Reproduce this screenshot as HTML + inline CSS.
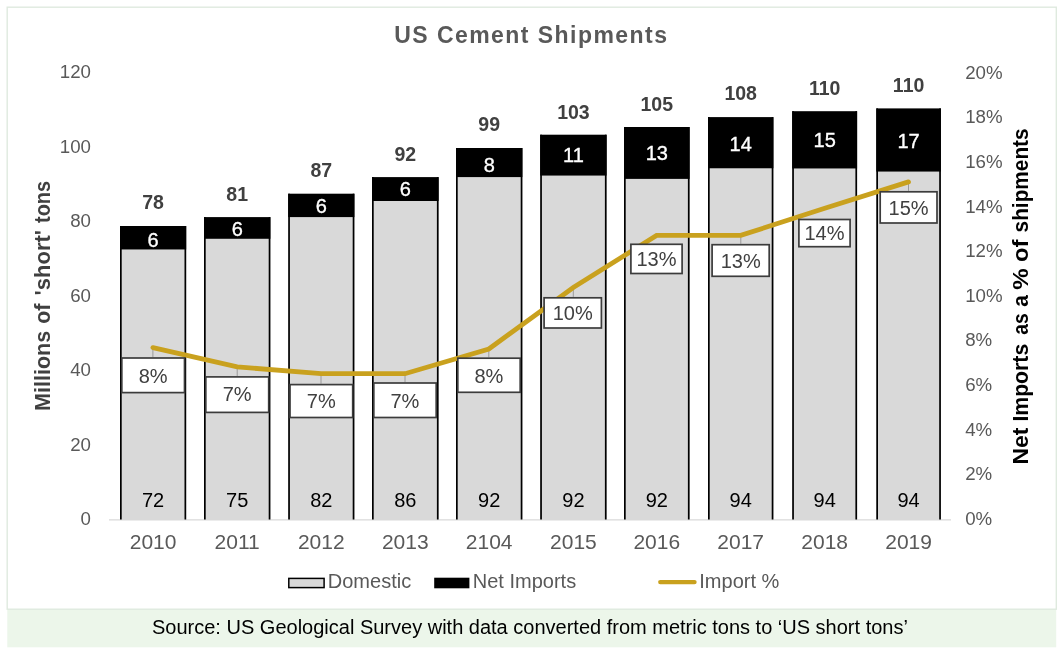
<!DOCTYPE html>
<html lang="en">
<head>
<meta charset="utf-8">
<title>US Cement Shipments</title>
<style>
html,body{margin:0;padding:0;background:#fff;}
body{width:1057px;height:650px;overflow:hidden;font-family:"Liberation Sans",Arial,sans-serif;}
svg{display:block;}
text{font-family:"Liberation Sans",Arial,sans-serif;}
.ax{fill:#595959;font-size:18.7px;}
.yr{fill:#595959;font-size:21px;}
.tot{fill:#404040;font-size:19.5px;font-weight:bold;}
.imp{fill:#fff;font-size:20px;stroke:#fff;stroke-width:0.35px;}
.dom{fill:#000;font-size:20px;}
.pc{fill:#404040;font-size:20px;}
.lg{fill:#595959;font-size:20px;}
</style>
</head>
<body>
<svg width="1057" height="650" viewBox="0 0 1057 650">
<rect x="0" y="0" width="1057" height="650" fill="#ffffff"/>
<rect x="7.3" y="609" width="1048.9" height="38.3" fill="#ecf6ea"/>
<rect x="7.2" y="7.2" width="1049.1" height="602" fill="none" stroke="#dfeadf" stroke-width="1.4"/>

<text x="531.3" y="43.0" text-anchor="middle" font-size="23" font-weight="bold" fill="#595959" letter-spacing="1.45">US Cement Shipments</text>
<line x1="109" y1="519.8" x2="951" y2="519.8" stroke="#d9d9d9" stroke-width="1.2"/>
<text class="ax" x="91" y="525.0" text-anchor="end">0</text>
<text class="ax" x="91" y="450.5" text-anchor="end">20</text>
<text class="ax" x="91" y="376.1" text-anchor="end">40</text>
<text class="ax" x="91" y="301.6" text-anchor="end">60</text>
<text class="ax" x="91" y="227.2" text-anchor="end">80</text>
<text class="ax" x="91" y="152.7" text-anchor="end">100</text>
<text class="ax" x="91" y="78.3" text-anchor="end">120</text>
<text class="ax" x="965.2" y="524.9">0%</text>
<text class="ax" x="965.2" y="480.3">2%</text>
<text class="ax" x="965.2" y="435.7">4%</text>
<text class="ax" x="965.2" y="391.0">6%</text>
<text class="ax" x="965.2" y="346.4">8%</text>
<text class="ax" x="965.2" y="301.8">10%</text>
<text class="ax" x="965.2" y="257.2">12%</text>
<text class="ax" x="965.2" y="212.6">14%</text>
<text class="ax" x="965.2" y="167.9">16%</text>
<text class="ax" x="965.2" y="123.3">18%</text>
<text class="ax" x="965.2" y="78.7">20%</text>
<text transform="translate(50.4,409.5) rotate(-90)" font-size="21.5" font-weight="bold" fill="#404040"><tspan x="-1.5" textLength="80.2" lengthAdjust="spacingAndGlyphs">Millions</tspan> <tspan x="85.8" textLength="20.1" lengthAdjust="spacingAndGlyphs">of</tspan> <tspan x="114.0" textLength="65.6" lengthAdjust="spacingAndGlyphs">'short'</tspan> <tspan x="186.6" textLength="42.0" lengthAdjust="spacingAndGlyphs">tons</tspan></text>
<text transform="translate(1027.7,463.0) rotate(-90)" font-size="21.5" font-weight="bold" fill="#000"><tspan x="-1.6" textLength="36.9" lengthAdjust="spacingAndGlyphs">Net</tspan> <tspan x="41.4" textLength="77.8" lengthAdjust="spacingAndGlyphs">Imports</tspan> <tspan x="128.2" textLength="21.4" lengthAdjust="spacingAndGlyphs">as</tspan> <tspan x="156.2" textLength="11.6" lengthAdjust="spacingAndGlyphs">a</tspan> <tspan x="173.2" textLength="21.4" lengthAdjust="spacingAndGlyphs">%</tspan> <tspan x="201.1" textLength="22.4" lengthAdjust="spacingAndGlyphs">of</tspan> <tspan x="230.6" textLength="104.0" lengthAdjust="spacingAndGlyphs">shipments</tspan></text>
<rect x="120.0" y="249.5" width="66.2" height="270.5" fill="#d9d9d9"/>
<rect x="120.0" y="226.0" width="66.2" height="23.5" fill="#000"/>
<rect x="120.0" y="226.0" width="1.7" height="293.5" fill="#000"/>
<rect x="184.5" y="226.0" width="1.7" height="293.5" fill="#000"/>
<text class="tot" x="153.1" y="209.3" text-anchor="middle">78</text>
<text class="imp" x="153.1" y="247.1" text-anchor="middle">6</text>
<text class="dom" x="153.1" y="507.3" text-anchor="middle">72</text>
<text class="yr" x="153.1" y="549" text-anchor="middle">2010</text>
<rect x="204.0" y="238.8" width="66.4" height="281.2" fill="#d9d9d9"/>
<rect x="204.0" y="217.1" width="66.4" height="21.7" fill="#000"/>
<rect x="204.0" y="217.1" width="1.7" height="302.4" fill="#000"/>
<rect x="268.7" y="217.1" width="1.7" height="302.4" fill="#000"/>
<text class="tot" x="237.2" y="200.6" text-anchor="middle">81</text>
<text class="imp" x="237.2" y="236.1" text-anchor="middle">6</text>
<text class="dom" x="237.2" y="507.3" text-anchor="middle">75</text>
<text class="yr" x="237.2" y="549" text-anchor="middle">2011</text>
<rect x="288.2" y="217.1" width="66.2" height="302.9" fill="#d9d9d9"/>
<rect x="288.2" y="193.7" width="66.2" height="23.4" fill="#000"/>
<rect x="288.2" y="193.7" width="1.7" height="325.8" fill="#000"/>
<rect x="352.7" y="193.7" width="1.7" height="325.8" fill="#000"/>
<text class="tot" x="321.3" y="176.8" text-anchor="middle">87</text>
<text class="imp" x="321.3" y="212.7" text-anchor="middle">6</text>
<text class="dom" x="321.3" y="507.3" text-anchor="middle">82</text>
<text class="yr" x="321.3" y="549" text-anchor="middle">2012</text>
<rect x="372.0" y="201.0" width="66.6" height="319.0" fill="#d9d9d9"/>
<rect x="372.0" y="177.1" width="66.6" height="23.9" fill="#000"/>
<rect x="372.0" y="177.1" width="1.7" height="342.4" fill="#000"/>
<rect x="436.9" y="177.1" width="1.7" height="342.4" fill="#000"/>
<text class="tot" x="405.3" y="161.0" text-anchor="middle">92</text>
<text class="imp" x="405.3" y="196.2" text-anchor="middle">6</text>
<text class="dom" x="405.3" y="507.3" text-anchor="middle">86</text>
<text class="yr" x="405.3" y="549" text-anchor="middle">2013</text>
<rect x="456.0" y="177.1" width="66.4" height="342.9" fill="#d9d9d9"/>
<rect x="456.0" y="148.0" width="66.4" height="29.1" fill="#000"/>
<rect x="456.0" y="148.0" width="1.7" height="371.5" fill="#000"/>
<rect x="520.7" y="148.0" width="1.7" height="371.5" fill="#000"/>
<text class="tot" x="489.2" y="131.3" text-anchor="middle">99</text>
<text class="imp" x="489.2" y="171.7" text-anchor="middle">8</text>
<text class="dom" x="489.2" y="507.3" text-anchor="middle">92</text>
<text class="yr" x="489.2" y="549" text-anchor="middle">2104</text>
<rect x="540.2" y="175.6" width="66.4" height="344.4" fill="#d9d9d9"/>
<rect x="540.2" y="134.7" width="66.4" height="40.9" fill="#000"/>
<rect x="540.2" y="134.7" width="1.7" height="384.8" fill="#000"/>
<rect x="604.9" y="134.7" width="1.7" height="384.8" fill="#000"/>
<text class="tot" x="573.4" y="118.5" text-anchor="middle">103</text>
<text class="imp" x="573.4" y="162.2" text-anchor="middle">11</text>
<text class="dom" x="573.4" y="507.3" text-anchor="middle">92</text>
<text class="yr" x="573.4" y="549" text-anchor="middle">2015</text>
<rect x="624.0" y="178.9" width="65.6" height="341.1" fill="#d9d9d9"/>
<rect x="624.0" y="127.0" width="65.6" height="51.9" fill="#000"/>
<rect x="624.0" y="127.0" width="1.7" height="392.5" fill="#000"/>
<rect x="687.9" y="127.0" width="1.7" height="392.5" fill="#000"/>
<text class="tot" x="656.8" y="111.0" text-anchor="middle">105</text>
<text class="imp" x="656.8" y="159.7" text-anchor="middle">13</text>
<text class="dom" x="656.8" y="507.3" text-anchor="middle">92</text>
<text class="yr" x="656.8" y="549" text-anchor="middle">2016</text>
<rect x="708.0" y="168.3" width="65.4" height="351.7" fill="#d9d9d9"/>
<rect x="708.0" y="117.1" width="65.4" height="51.2" fill="#000"/>
<rect x="708.0" y="117.1" width="1.7" height="402.4" fill="#000"/>
<rect x="771.7" y="117.1" width="1.7" height="402.4" fill="#000"/>
<text class="tot" x="740.7" y="100.1" text-anchor="middle">108</text>
<text class="imp" x="740.7" y="150.7" text-anchor="middle">14</text>
<text class="dom" x="740.7" y="507.3" text-anchor="middle">94</text>
<text class="yr" x="740.7" y="549" text-anchor="middle">2017</text>
<rect x="792.2" y="168.5" width="64.9" height="351.5" fill="#d9d9d9"/>
<rect x="792.2" y="111.2" width="64.9" height="57.3" fill="#000"/>
<rect x="792.2" y="111.2" width="1.7" height="408.3" fill="#000"/>
<rect x="855.4" y="111.2" width="1.7" height="408.3" fill="#000"/>
<text class="tot" x="824.7" y="94.5" text-anchor="middle">110</text>
<text class="imp" x="824.7" y="147.4" text-anchor="middle">15</text>
<text class="dom" x="824.7" y="507.3" text-anchor="middle">94</text>
<text class="yr" x="824.7" y="549" text-anchor="middle">2018</text>
<rect x="876.3" y="171.6" width="64.6" height="348.4" fill="#d9d9d9"/>
<rect x="876.3" y="108.4" width="64.6" height="63.2" fill="#000"/>
<rect x="876.3" y="108.4" width="1.7" height="411.1" fill="#000"/>
<rect x="939.2" y="108.4" width="1.7" height="411.1" fill="#000"/>
<text class="tot" x="908.6" y="91.6" text-anchor="middle">110</text>
<text class="imp" x="908.6" y="147.8" text-anchor="middle">17</text>
<text class="dom" x="908.6" y="507.3" text-anchor="middle">94</text>
<text class="yr" x="908.6" y="549" text-anchor="middle">2019</text>
<line x1="152.9" y1="347.6" x2="152.9" y2="357.1" stroke="#9a9a9a" stroke-width="1"/>
<line x1="237.2" y1="366.9" x2="237.2" y2="376.0" stroke="#9a9a9a" stroke-width="1"/>
<line x1="321.0" y1="373.7" x2="321.0" y2="383.7" stroke="#9a9a9a" stroke-width="1"/>
<line x1="405.0" y1="373.7" x2="405.0" y2="382.1" stroke="#9a9a9a" stroke-width="1"/>
<line x1="488.8" y1="349.0" x2="488.8" y2="357.4" stroke="#9a9a9a" stroke-width="1"/>
<line x1="573.3" y1="287.5" x2="573.3" y2="296.9" stroke="#9a9a9a" stroke-width="1"/>
<line x1="740.8" y1="235.4" x2="740.8" y2="243.8" stroke="#9a9a9a" stroke-width="1"/>
<line x1="908.5" y1="181.9" x2="908.5" y2="190.9" stroke="#9a9a9a" stroke-width="1"/>
<polyline fill="none" stroke="#c9a11e" stroke-width="4.8" stroke-linejoin="miter" stroke-linecap="round" points="152.9,347.6 237.2,366.9 321.0,373.7 405.0,373.7 488.8,349.0 573.3,287.5 656.6,235.4 740.8,235.4 824.8,208.3 908.5,181.9"/>
<rect x="121.8" y="358.0" width="62.7" height="34.6" fill="#fff" stroke="#3c3c3c" stroke-width="1.7"/>
<text class="pc" x="153.1" y="382.6" text-anchor="middle">8%</text>
<rect x="205.8" y="376.9" width="62.9" height="35.5" fill="#fff" stroke="#3c3c3c" stroke-width="1.7"/>
<text class="pc" x="237.2" y="401.1" text-anchor="middle">7%</text>
<rect x="290.0" y="384.6" width="62.7" height="32.9" fill="#fff" stroke="#3c3c3c" stroke-width="1.7"/>
<text class="pc" x="321.3" y="408.3" text-anchor="middle">7%</text>
<rect x="373.8" y="383.0" width="62.4" height="34.5" fill="#fff" stroke="#3c3c3c" stroke-width="1.7"/>
<text class="pc" x="404.9" y="407.5" text-anchor="middle">7%</text>
<rect x="457.8" y="358.2" width="62.4" height="34.1" fill="#fff" stroke="#3c3c3c" stroke-width="1.7"/>
<text class="pc" x="488.9" y="382.6" text-anchor="middle">8%</text>
<rect x="544.1" y="297.8" width="57.3" height="30.2" fill="#fff" stroke="#3c3c3c" stroke-width="1.7"/>
<text class="pc" x="572.7" y="320.2" text-anchor="middle">10%</text>
<rect x="630.9" y="244.3" width="51.2" height="29.2" fill="#fff" stroke="#3c3c3c" stroke-width="1.7"/>
<text class="pc" x="656.5" y="266.2" text-anchor="middle">13%</text>
<rect x="712.1" y="244.7" width="57.1" height="31.6" fill="#fff" stroke="#3c3c3c" stroke-width="1.7"/>
<text class="pc" x="740.7" y="267.8" text-anchor="middle">13%</text>
<rect x="798.9" y="219.5" width="51.2" height="27.2" fill="#fff" stroke="#3c3c3c" stroke-width="1.7"/>
<text class="pc" x="824.5" y="240.4" text-anchor="middle">14%</text>
<rect x="880.2" y="191.8" width="56.8" height="31.2" fill="#fff" stroke="#3c3c3c" stroke-width="1.7"/>
<text class="pc" x="908.6" y="214.7" text-anchor="middle">15%</text>
<rect x="288.8" y="578.4" width="35.3" height="9.2" fill="#d9d9d9" stroke="#000" stroke-width="1.5"/>
<text class="lg" x="327.8" y="588.3">Domestic</text>
<rect x="434.2" y="577.7" width="35.2" height="10.6" fill="#000"/>
<text class="lg" x="472.8" y="588.3">Net Imports</text>
<line x1="660.3" y1="582.1" x2="694.5" y2="582.1" stroke="#c9a11e" stroke-width="4.4" stroke-linecap="round"/>
<text class="lg" x="699.3" y="588.3">Import %</text>
<text x="152" y="634" font-size="20" fill="#000">Source: US Geological Survey with data converted from metric tons to ‘US short tons’</text>
</svg>
</body>
</html>
